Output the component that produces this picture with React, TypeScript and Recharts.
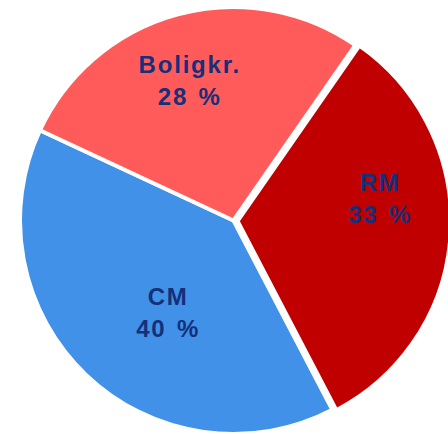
import React from 'react';
import { PieChart, Pie, Cell } from 'recharts';

const names = ['RM', 'CM', 'Boligkr.'];
const values = [33, 40, 28];
const pctLabels = ['33 %', '40 %', '28 %'];
const colors = ['#C00000', '#4191E8', '#FF5B5B'];
const exploded = [true, false, false];

const data = names.map((name, i) => ({ name, value: values[i], pct: pctLabels[i] }));

const RAD = Math.PI / 180;
const CX = 233.5;
const CY = 220.5;
const R = 213.5;

// hand nudges so labels sit roughly where the original put them
const nudge: Record<string, [number, number]> = {
  RM: [6, -31],
  CM: [32, -10],
  'Boligkr.': [-7, -4],
};

const renderLabel = (props: any) => {
  const { cx, cy, midAngle, outerRadius, name, payload } = props;
  const r = outerRadius * 0.66;
  const [dx, dy] = nudge[name] || [0, 0];
  const x = cx + r * Math.cos(-midAngle * RAD) + dx;
  const y = cy + r * Math.sin(-midAngle * RAD) + dy;
  const style = {
    fontFamily: '"Liberation Sans", Arial, sans-serif',
    fontWeight: 700,
    fontSize: 24,
    letterSpacing: 1.8,
    wordSpacing: 2,
    fill: '#15307A',
  };
  return (
    <g>
      <text x={x} y={y - 16} textAnchor="middle" dominantBaseline="central" style={style}>
        {name}
      </text>
      <text x={x} y={y + 16} textAnchor="middle" dominantBaseline="central" style={style}>
        {payload.pct}
      </text>
    </g>
  );
};

export default function App() {
  return (
    <div style={{ position: 'absolute', left: 0, top: 0, background: '#fff' }}>
      <PieChart width={448} height={434} margin={{ top: 0, right: 0, bottom: 0, left: 0 }}>
        <Pie
          data={data}
          dataKey="value"
          nameKey="name"
          cx={CX}
          cy={CY}
          outerRadius={R}
          startAngle={55.2}
          endAngle={-304.8}
          stroke="#fff"
          strokeWidth={4}
          label={renderLabel}
          labelLine={false}
          isAnimationActive={false}
        >
          {data.map((d, i) => (
            <Cell key={d.name} fill={exploded[i] ? 'none' : colors[i]} stroke={exploded[i] ? 'none' : '#fff'} />
          ))}
        </Pie>
        <Pie
          data={data}
          dataKey="value"
          nameKey="name"
          cx={CX + 4}
          cy={CY + 0.5}
          outerRadius={R}
          startAngle={55.2}
          endAngle={-304.8}
          stroke="#fff"
          strokeWidth={4}
          label={false}
          labelLine={false}
          isAnimationActive={false}
        >
          {data.map((d, i) => (
            <Cell key={d.name} fill={exploded[i] ? colors[i] : 'none'} stroke={exploded[i] ? '#fff' : 'none'} />
          ))}
        </Pie>
      </PieChart>
    </div>
  );
}
